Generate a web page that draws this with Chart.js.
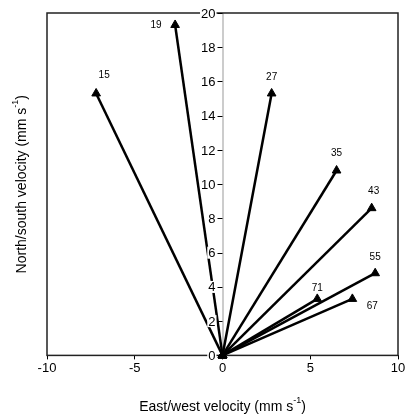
<!DOCTYPE html>
<html>
<head>
<meta charset="utf-8">
<script src="https://cdn.jsdelivr.net/npm/chart.js@4.4.0/dist/chart.umd.min.js"></script>
<style>
  html, body { margin: 0; padding: 0; background: #fff; }
  #wrap { width: 408px; height: 419px; }
</style>
</head>
<body>
<div id="wrap"><canvas id="chart" width="408" height="419"></canvas></div>
<script>
// values
const vectorLabels = ['15', '19', '27', '35', '43', '55', '71', '67'];
const eastWest = [-7.2, -2.7, 2.8, 6.5, 8.5, 8.7, 5.4, 7.4];
const northSouth = [15.3, 19.3, 15.3, 10.8, 8.6, 4.8, 3.3, 3.3];
const xTicks = [-10, -5, 0, 5, 10];
const yTicks = [0, 2, 4, 6, 8, 10, 12, 14, 16, 18, 20];

// where each number sits next to its arrow head (px)
const labelShift = [[8, -18], [-19, 0], [0, -16], [0, -17], [2, -17], [0, -16], [0, -11], [20, 7]];

const datasets = vectorLabels.map((lab, i) => ({
    label: lab,
    data: [{x: 0, y: 0}, {x: eastWest[i], y: northSouth[i]}],
    showLine: true,
    borderColor: '#000',
    backgroundColor: '#000',
    borderWidth: 2.5,
    pointStyle: 'triangle',
    pointRadius: 5,
    pointBorderWidth: 1,
    clip: false
}));

const FONT = '"Liberation Sans", Arial, sans-serif';

// box, y axis through x = 0, titles and the small numbers
const extras = {
    id: 'extras',
    beforeDatasetsDraw(chart) {
        const {ctx, chartArea: a, scales} = chart;
        const x0 = scales.x.getPixelForValue(0);
        ctx.save();
        ctx.strokeStyle = '#999';
        ctx.lineWidth = 1;
        ctx.beginPath();
        ctx.moveTo(x0 + 0.5, a.bottom);
        ctx.lineTo(x0 + 0.5, a.top);
        ctx.stroke();
        ctx.strokeStyle = '#222';
        ctx.lineWidth = 1.5;
        ctx.strokeRect(a.left, a.top, a.right - a.left, a.bottom - a.top);
        ctx.restore();
    },
    afterDatasetsDraw(chart) {
        const {ctx, chartArea: a, scales} = chart;
        const x0 = scales.x.getPixelForValue(0);
        ctx.save();
        ctx.font = '13px ' + FONT;
        ctx.textAlign = 'right';
        ctx.textBaseline = 'middle';
        yTicks.forEach(v => {
            const y = scales.y.getPixelForValue(v);
            ctx.strokeStyle = '#000';
            ctx.lineWidth = 1;
            ctx.beginPath();
            ctx.moveTo(x0 - 5, Math.round(y) + 0.5);
            ctx.lineTo(x0, Math.round(y) + 0.5);
            ctx.stroke();
            const t = String(v);
            const w = ctx.measureText(t).width;
            ctx.fillStyle = '#fff';
            ctx.fillRect(x0 - 7 - w - 1, y - 6, w + 2, 12);
            ctx.fillStyle = '#000';
            ctx.fillText(t, x0 - 7, y + 1);
        });

        // numbers at the arrow heads
        ctx.font = '10px ' + FONT;
        ctx.textAlign = 'center';
        vectorLabels.forEach((lab, i) => {
            const px = scales.x.getPixelForValue(eastWest[i]) + labelShift[i][0];
            const py = scales.y.getPixelForValue(northSouth[i]) + labelShift[i][1];
            ctx.fillText(lab, px, py);
        });

        // axis titles with superscript
        const drawTitle = (main, sup, tail) => {
            ctx.font = '14px ' + FONT;
            const w1 = ctx.measureText(main).width;
            const w3 = ctx.measureText(tail).width;
            ctx.font = '9px ' + FONT;
            const w2 = ctx.measureText(sup).width;
            let x = -(w1 + w2 + w3) / 2;
            ctx.textAlign = 'left';
            ctx.textBaseline = 'middle';
            ctx.font = '14px ' + FONT;
            ctx.fillText(main, x, 0);
            x += w1;
            ctx.font = '9px ' + FONT;
            ctx.fillText(sup, x, -6);
            x += w2;
            ctx.font = '14px ' + FONT;
            ctx.fillText(tail, x, 0);
        };
        ctx.save();
        ctx.translate((a.left + a.right) / 2, 407);
        drawTitle('East/west velocity (mm s', '-1', ')');
        ctx.restore();
        ctx.save();
        ctx.translate(22, (a.top + a.bottom) / 2);
        ctx.rotate(-Math.PI / 2);
        drawTitle('North/south velocity (mm s', '-1', ')');
        ctx.restore();
        ctx.restore();
    }
};

new Chart(document.getElementById('chart'), {
    type: 'scatter',
    data: { datasets },
    options: {
        responsive: false,
        animation: false,
        layout: { padding: { left: 47, top: 13, right: 10, bottom: 42 } },
        plugins: { legend: { display: false }, tooltip: { enabled: false } },
        scales: {
            x: {
                min: -10, max: 10,
                afterBuildTicks: s => { s.ticks = xTicks.map(v => ({value: v})); },
                grid: { drawOnChartArea: false, drawTicks: true, tickLength: 4, color: '#000' },
                border: { display: false },
                ticks: { color: '#000', font: { size: 13, family: FONT }, padding: 1, maxRotation: 0 }
            },
            y: {
                min: 0, max: 20,
                display: false
            }
        }
    },
    plugins: [extras]
});
</script>
</body>
</html>
